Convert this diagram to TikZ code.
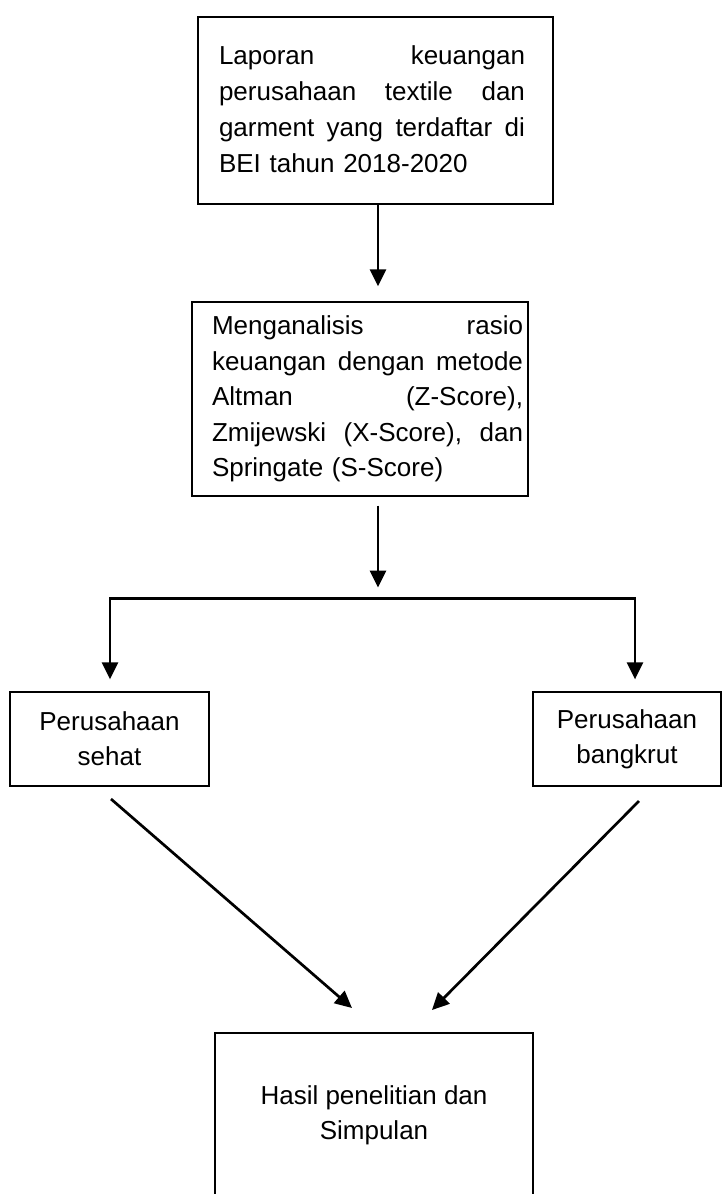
\documentclass[tikz,border=0pt]{standalone}
\usepackage{fontspec}
\setmainfont{Liberation Sans}
\usetikzlibrary{arrows.meta}
\newcommand{\jl}[2]{\makebox[#1][l]{#2}}
\tikzset{
  boxnode/.style={draw=black, line width=1.3pt, rectangle, inner sep=0pt},
  txt/.style={inner sep=0pt, font=\fontsize{26}{36}\selectfont, align=left},
  ctxt/.style={font=\fontsize{26}{35}\selectfont, align=center},
  arr/.style={line width=2.7pt, -{Triangle[length=17pt,width=16pt]}},
  arrboth/.style={line width=2.4pt, {Triangle[length=17pt,width=16pt]}-{Triangle[length=17pt,width=16pt]}},
}
\begin{document}
\begin{tikzpicture}[x=1pt,y=-1pt]
\useasboundingbox (0,0) rectangle (723,1194);
% boxes
\node[boxnode, minimum width=355pt, minimum height=187pt] (b1) at (375.5,110.5) {};
\node[txt, text width=306pt] (t1) at (372,109.5) {\jl{306pt}{Laporan\hfill keuangan}\\ \jl{306pt}{perusahaan\hfill textile\hfill dan}\\ \jl{306pt}{garment\hfill yang\hfill terdaftar\hfill di}\\ BEI tahun 2018-2020};
\node[boxnode, minimum width=336pt, minimum height=194pt] (b2) at (360,399) {};
\node[txt, text width=311pt, font=\fontsize{26}{35.5}\selectfont] (t2) at (367.5,399) {\jl{311pt}{Menganalisis\hfill rasio}\\ \jl{311pt}{keuangan\hfill dengan\hfill metode}\\ \jl{311pt}{Altman\hfill (Z-Score),}\\ \jl{311pt}{Zmijewski\hfill (X-Score),\hfill dan}\\ Springate (S-Score)};
\node[boxnode, ctxt, minimum width=199pt, minimum height=94pt] (bl) at (109.5,739) {Perusahaan\\sehat};
\node[boxnode, ctxt, minimum width=188pt, minimum height=94pt] (br) at (627,739) {Perusahaan\\bangkrut};
\node[boxnode, ctxt, minimum width=318pt, minimum height=164pt] (b3) at (374,1115) {Hasil penelitian dan\\Simpulan};
% connector coordinates
\coordinate (hm) at (378,598.5);
\coordinate (hl) at (110,598.5);
\coordinate (hr) at (635,598.5);
\coordinate (d1s) at (111,799);
\coordinate (d1e) at (352,1008);
\coordinate (d2s) at (639,801);
\coordinate (d2e) at (432,1010);
% connectors
\draw[arr, shorten >=15pt] (hm |- b1.south) -- (hm |- b2.north);
\draw[arr, shorten <=9pt, shorten >=11pt] (hm |- b2.south) -- (hm);
\draw[arrboth, shorten <=12pt, shorten >=12pt] (hl |- bl.north) -- (hl) -- (hr) -- (hr |- br.north);
\draw[arr] (d1s) -- (d1e);
\draw[arr] (d2s) -- (d2e);
\end{tikzpicture}
\end{document}
